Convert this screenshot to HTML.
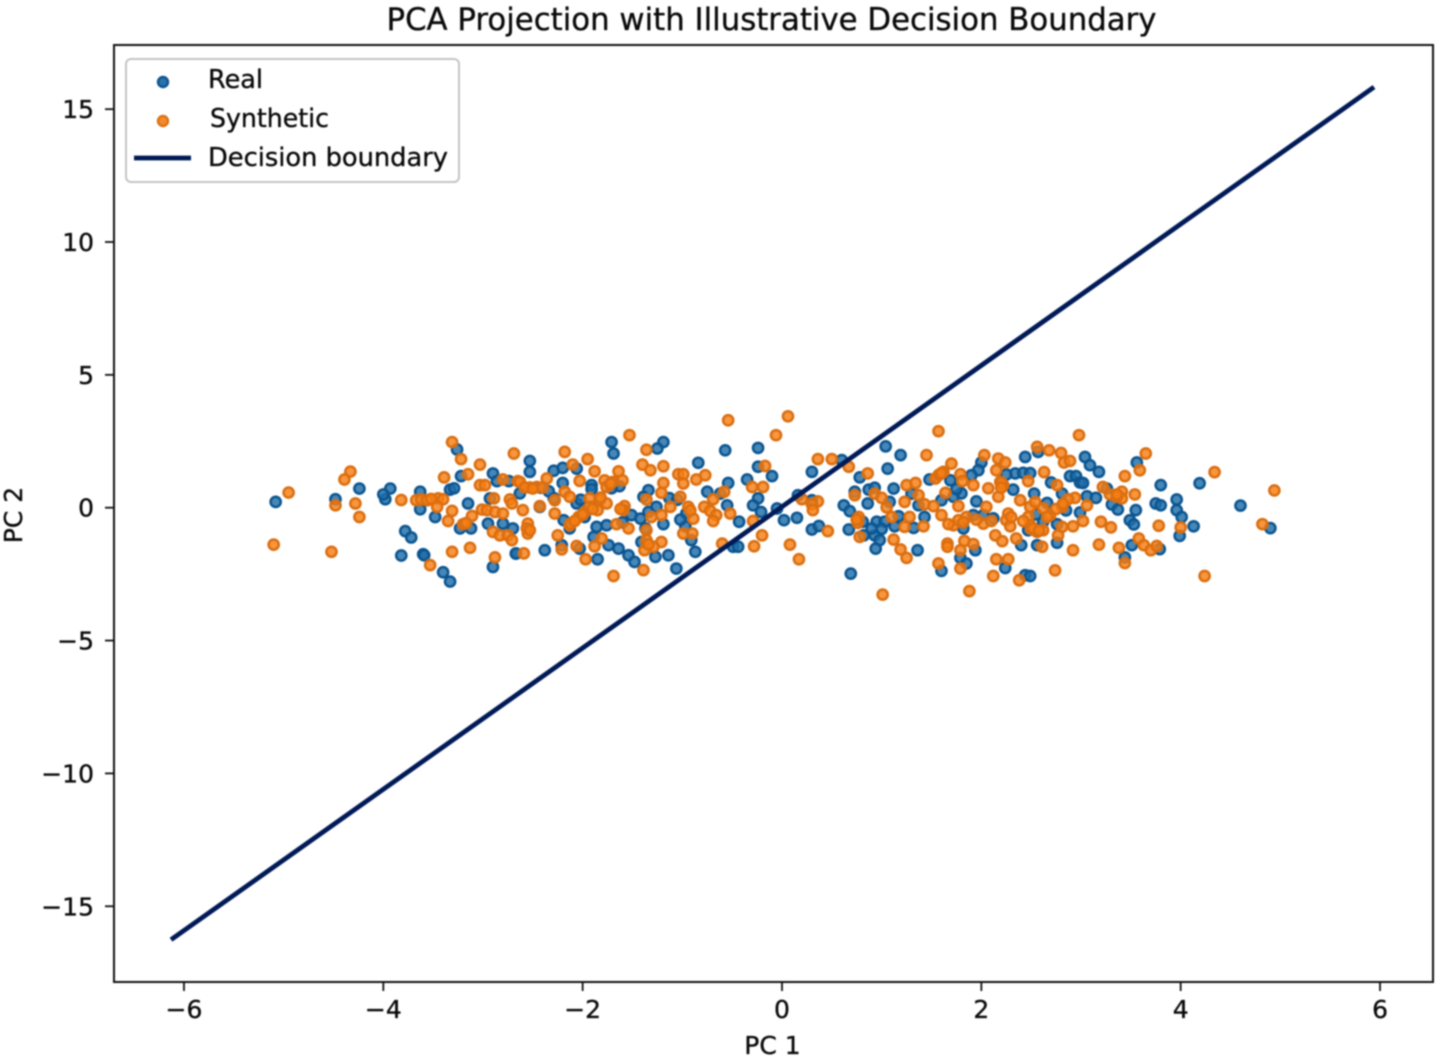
<!DOCTYPE html>
<html lang="en">
<head>
<meta charset="utf-8">
<title>PCA Projection with Illustrative Decision Boundary</title>
<style>
html,body{margin:0;padding:0;background:#fff;width:1441px;height:1060px;overflow:hidden}
svg{display:block;filter:blur(0.7px)}
text{font-family:"DejaVu Sans","Liberation Sans",sans-serif;fill:#0a0a0a;stroke:#0a0a0a;stroke-width:0.35px}
</style>
</head>
<body>
<svg id="chart" xmlns="http://www.w3.org/2000/svg" width="1441" height="1060" viewBox="0 0 1441 1060">
  <rect x="0" y="0" width="1441" height="1060" fill="#fff"/>
  <text x="771.5" y="30" font-size="31.5" text-anchor="middle" textLength="770" lengthAdjust="spacingAndGlyphs">PCA Projection with Illustrative Decision Boundary</text>
  <g id="ticks"></g>
  <g id="real"></g>
  <g id="synthetic"></g>
  <line id="boundary" stroke="#001a57" stroke-width="4.8"/>
  <rect x="114" y="45" width="1319" height="937" fill="none" stroke="#111" stroke-width="2"/>
  <text x="772.5" y="1054" font-size="25" text-anchor="middle">PC 1</text>
  <text transform="translate(22,515) rotate(-90)" font-size="25" text-anchor="middle">PC 2</text>
  <g>
    <rect x="126" y="59" width="333" height="123" rx="5" fill="#fff" fill-opacity="0.85" stroke="#c4c4c4" stroke-width="2"/>
    <circle cx="163" cy="82" r="5" fill="#2a72aa" stroke="#0e5590" stroke-width="2.4"/>
    <text x="208" y="88" font-size="25.5">Real</text>
    <circle cx="163" cy="121" r="5" fill="#f58a2c" stroke="#dc7214" stroke-width="2.4"/>
    <text x="210" y="127" font-size="25.5" textLength="119" lengthAdjust="spacingAndGlyphs">Synthetic</text>
    <line x1="134" y1="158" x2="191" y2="158" stroke="#001a57" stroke-width="4.8"/>
    <text x="208" y="166" font-size="25.5" textLength="240" lengthAdjust="spacingAndGlyphs">Decision boundary</text>
  </g>
</svg>
<script>
const xTicks = [-6, -4, -2, 0, 2, 4, 6];
const yTicks = [-15, -10, -5, 0, 5, 10, 15];
const boundaryX = [-6.13, 5.94];
const boundaryY = [-16.26, 15.83];
const realPoints = [
[-5.08,.22],[-4.48,.32],[-4.24,.72],[-3.98,.32],[-3.93,.72],[-4,.5],[-3.63,.6],[-3.63,-.06],[-3.48,-.35],[-3.33,.68],[-3.29,.73],[-3.26,2.19],[-3.22,1.19],[-3.15,.16],[-3.23,-.78],[-3.12,-.78],[-2.9,1.29],[-2.86,1],[-2.74,1],[-2.93,.35],[-2.95,-.6],[-3.78,-.88],[-3.72,-1.12],[-3.82,-1.8],[-3.6,-1.75],[-3.59,-1.79],[-3.4,-2.43],[-3.33,-2.78],[-2.9,-2.23],[-2.67,-1.73],[-2.8,-.6],[-2.7,-.78],
[-2.53,1.76],[-2.53,1.35],[-2.29,1.39],[-2.2,1.5],[-2.06,1.47],[-2.2,.93],[-1.71,2.47],[-1.69,2.04],[-1.19,2.47],[-1.25,2.23],[-.57,2.16],[-.24,2.25],[-.84,1.69],[-.24,1.54],[-.1,1.19],[-.54,.93],[-.35,1.06],[-.75,.6],[-.62,.53],[-.55,.09],[-.24,.35],[-.29,.09],[-.21,-.16],[-1.91,.85],[-1.91,.7],[-1.63,.81],[-1.71,.73],[-1.34,.66],[-1.39,.41],[-1.13,.36],[-1.26,.03],[-1.34,-.16],[-.96,-.22],[-1.19,-.62],[-.97,-.7],[-.91,-1.22],[-.87,-1.66],[-.43,-.53],[-.49,-1.47],[-.44,-1.47],[-.05,-.03],[-1.06,-2.29],[-2.63,.54],[-2.38,-1.6],[-2.67,-1.72],[-2.21,-1.41],[-2.03,-1.54],[-1.85,-1.94],[-1.86,-.72],[-1.89,-1.1],[-1.76,-.66],[-1.74,-1.41],[-1.64,-1.54],[-1.54,-1.79],[-1.48,-2.04],[-1.51,-.28],[-1.42,-.41],[-1.37,-.78],[-1.41,-1.29],[-1.27,-1.85],[-1.14,-1.79],[-2.06,.16],[-2.19,-.47],[-2.43,.03],[-2.29,.36],[-2.13,-.78],
[.3,1.35],[.6,1.79],[1.04,2.31],[1.19,1.98],[1.06,1.47],[.78,1.14],[.02,-.47],[.15,-.38],[.3,-.82],[.37,-.69],[.16,.47],[.3,.28],[.62,.09],[.68,-.13],[.67,-.82],[.73,.6],[.87,.68],[.93,.75],[.86,.16],[1.12,.72],[.81,-.53],[.82,-1.04],[.95,-.53],[1.03,-.53],[1.13,-.7],[.93,-1.04],[.98,-1.22],[.94,-1.54],[1.17,-.32],[1.08,.22],[1.43,-.35],[1.32,-.76],[1.36,-1.6],[.69,-2.48],[1.48,1.06],[1.69,1.03],[1.3,.53],[1.37,.09],[2,1.7],[1.97,1.41],[1.9,1.22],[2.44,1.91],[2.34,1.29],[2.42,1.31],[2.49,1.3],[1.8,.54],[1.72,.41],[1.6,.28],[1.95,.24],[2.32,.68],[1.82,-.78],[1.92,-.28],[2.02,-.28],[2.12,-.4],[1.6,-2.38],[1.79,-1.89],[1.85,-2.1],[1.94,-1.6],[2.24,-2.27],[2.44,-2.54],[2.4,-1.41],[2.56,-1.41],[2.47,-.85],
[3.04,1.91],[3.09,1.6],[3.18,1.35],[3.56,1.7],[2.89,1.19],[2.95,1.19],[2.99,.95],[3.02,.93],[3.8,.85],[4.19,.92],[3.26,.72],[3.06,.43],[3.15,.37],[3.31,.12],[3.37,-.07],[3.55,-.09],[3.75,.16],[3.8,.09],[3.96,.31],[3.96,-.09],[4.01,-.35],[4.6,.08],[3.49,-.47],[3.53,-.63],[2.99,-.18],[4.13,-.7],[3.99,-1.06],[4.9,-.77],[2.81,.53],[2.66,.18],[2.53,.53],[2.62,-.53],[2.76,-.62],[2.76,-1.32],[3.51,-1.41],[3.79,-1.56],[3.44,-1.87],[2.49,-2.57],[2.57,2.1],
[-2.42,.75],[-2.34,.62],[-2.02,.3],[-1.98,-.35],[-1.6,-.55],[-1.05,.3],[-1.02,-.45],[.9,-.78],[1.0,-.8],[1.75,.7],[2.25,1.25],[2.7,.95],[2.55,-.25],[2.85,-.1]
];
const syntheticPoints = [
[-4.95,.57],[-5.1,-1.39],[-4.52,-1.66],[-4.33,1.36],[-4.39,1.06],[-4.48,.09],[-4.28,.16],[-4.24,-.35],[-3.82,.29],[-3.67,.28],[-3.62,.31],[-3.56,.28],[-3.45,.35],[-3.4,.32],[-3.46,.03],[-3.31,-.12],[-3.35,-.5],[-3.31,2.47],[-3.22,1.83],[-3.03,1.62],[-3.15,1.26],[-3.39,1.14],[-2.69,2.04],[-3.03,.85],[-2.98,.85],[-2.8,1.06],[-2.65,1],[-3.31,-1.66],[-3.13,-1.51],[-2.88,-1.87],[-3.53,-2.16],[-3.11,-.31],[-3.2,-.62],[-3.17,-.58],[-3.01,-.07],[-2.96,-.09],[-2.88,-.16],[-2.8,-.22],[-2.89,.35],[-2.73,.31],[-2.71,.16],[-2.9,-.91],[-2.83,-1.04],[-2.75,-1.04],[-2.71,-1.22],
[-2.18,2.1],[-2.1,1.62],[-1.95,1.83],[-1.53,2.73],[-1.36,2.18],[-.54,3.29],[-.06,2.73],[-1.4,1.62],[-1.32,1.41],[-1.19,1.56],[-1.04,1.26],[-.99,1.26],[-.99,.91],[-.86,1.06],[-.77,1.22],[-.17,1.57],[-.3,.78],[-.19,.78],[-.58,.6],[-.69,.32],[-.78,.03],[-.72,-.12],[-.52,-.22],[-.66,-.28],[-.69,-.5],[-1.19,.93],[-1.21,.56],[-1.02,.41],[-1.36,.31],[-.94,.03],[-.89,-.41],[-1.12,.03],[-1.21,-.28],[-1.31,-.35],[-1.88,1.37],[-1.64,1.37],[-2.03,1.01],[-1.78,1.03],[-1.76,.78],[-1.7,.97],[-2.36,1.1],[-2.53,.76],[-2.63,.97],[-2.58,.76],[-2.46,.78],[-2.43,.06],[-2.6,-.09],[-2.28,.28],[-2.18,.6],[-2.13,.41],[-2.28,-.22],[-1.93,.35],[-1.83,.28],[-1.76,.16],[-2.13,-.66],[-2.04,-.35],[-1.98,-.16],[-1.93,.03],[-1.85,-.09],[-2.55,-.6],[-2.55,-.97],[-2.25,-1.04],[-2.59,-1.72],[-2.21,-1.57],[-2.06,-1.44],[-1.97,-1.94],[-1.88,-1.45],[-1.81,-1.16],[-1.69,-2.57],[-1.39,-2.35],[-1.58,.06],[-1.59,-.09],[-1.66,-.62],[-1.54,-.78],[-1.36,-.85],[-1.36,-1.22],[-1.21,-1.29],[-1.29,-1.47],[-1.38,-1.6],[-.99,-.97],[-.9,-.97],[-.2,-1.04],[-.28,-1.45],[-.6,-1.35],[-.29,-.5],
[.06,3.44],[.36,1.83],[.5,1.83],[.67,1.54],[1.57,2.88],[1.45,1.98],[.86,1.29],[.2,.32],[.36,.24],[.3,.13],[.31,-.09],[.46,-.88],[.08,-1.39],[.17,-1.94],[.73,.47],[.77,-.35],[.76,-.57],[.78,-1.1],[.93,.53],[1,.37],[1.05,.01],[1.1,-.35],[1.12,-1.2],[1.19,-1.57],[1.25,-1.89],[1.01,-3.27],[1.88,-3.14],[1.25,.85],[1.34,.93],[1.23,.22],[1.28,-.35],[1.23,-.72],[1.42,-.7],[1.37,.47],[1.43,.13],[1.52,.06],[1.6,-.28],[1.57,1.22],[1.54,1.1],[1.62,1.35],[1.7,1.66],[1.64,.56],[1.79,1.26],[1.81,1],[1.92,.85],[1.77,.06],[1.72,-.66],[1.77,-.47],[1.85,-.35],[1.66,-1.35],[1.66,-1.47],[1.83,-1.25],[1.79,-1.6],[1.92,-1.37],[1.57,-2.1],[1.79,-2.29],[2.12,-2.57],[2.38,-2.73],[2.15,-1.94],[2.27,-1.94],[2.14,-1.04],[2.21,-1.26],[2.35,-1.16],[2.05,.03],[2.02,-.6],[2.03,1.98],[2.17,1.85],[2.24,1.7],[2.15,1.41],[2.19,.97],[2.22,.85],[2.07,.73],[2.17,.41],[2.47,1],[2.56,2.29],[2.39,.28],[2.49,.03],[2.27,-.22],[2.25,-.47],[2.29,-.7],[2.47,-.35],[2.49,-.66],[2.56,-.91],
[2.98,2.73],[2.68,2.16],[2.8,2.06],[2.83,1.7],[2.89,1.76],[3.65,2.04],[3.59,1.41],[4.34,1.34],[3.44,1.19],[2.63,1.34],[2.76,.85],[3.22,.78],[3.29,.5],[3.41,.6],[3.41,.35],[3.36,.41],[3.54,.5],[4.94,.65],[4.82,-.62],[2.94,.37],[2.87,.32],[2.81,.03],[3.06,.09],[2.54,.22],[2.62,-.02],[2.69,-.28],[2.92,-.7],[3.02,-.5],[2.81,-.72],[3.2,-.53],[3.3,-.74],[3.78,-.68],[4,-.74],[2.62,-.85],[2.77,-1.04],[2.61,-1.47],[2.92,-1.6],[3.18,-1.39],[3.38,-1.51],[3.58,-1.16],[3.63,-1.41],[3.7,-1.6],[3.76,-1.44],[3.44,-2.08],[2.74,-2.36],[4.24,-2.57],
[-3.52,.33],[-2.5,.72],[-2.4,.76],[-2.12,-.6],[-2.08,-.5],[-2.0,-.25],[-1.9,-.05],[-1.62,-.05],[-1.6,1.03],[-1.72,.9],[-2.56,-.78],[-2.53,-.85],[-1.34,-1.38],[-.92,-.1],[-1.82,.38],[.75,-.45],[1.58,1.25],[1.6,1.3],[1.67,-.62],[1.82,-.55],[1.95,-.45],[2.1,-.5],[2.2,.95],[2.2,.75],[2.3,-.35],[2.42,-.5],[2.5,-.8],[2.52,-.78],[2.58,-.86],[2.66,-.35],[2.75,-.05],[2.82,.15],[3.36,.5]
];

const SVG_NS = 'http://www.w3.org/2000/svg';
function xScale(v) { return 782 + v * 99.67; }
function yScale(v) { return 507.7 - v * 26.57; }

const tickGroup = document.getElementById('ticks');
xTicks.forEach(function (t) {
  const mark = document.createElementNS(SVG_NS, 'line');
  
  
  mark.setAttribute('x1', xScale(t));
  mark.setAttribute('x2', xScale(t));
  mark.setAttribute('y1', 982);
  mark.setAttribute('y2', 991);
  mark.setAttribute('stroke', '#111');
  mark.setAttribute('stroke-width', 1.8);
  tickGroup.appendChild(mark);
  const label = document.createElementNS(SVG_NS, 'text');
  
  
  label.setAttribute('x', xScale(t));
  label.setAttribute('y', 1018);
  label.setAttribute('font-size', 25);
  label.setAttribute('text-anchor', 'middle');
  label.textContent = String(t).replace('-', '\u2212');
  tickGroup.appendChild(label);
});
yTicks.forEach(function (t) {
  const mark = document.createElementNS(SVG_NS, 'line');
  
  
  mark.setAttribute('x1', 105);
  mark.setAttribute('x2', 114);
  mark.setAttribute('y1', yScale(t));
  mark.setAttribute('y2', yScale(t));
  mark.setAttribute('stroke', '#111');
  mark.setAttribute('stroke-width', 1.8);
  tickGroup.appendChild(mark);
  const label = document.createElementNS(SVG_NS, 'text');
  
  
  label.setAttribute('x', 94);
  label.setAttribute('y', yScale(t) + 9);
  label.setAttribute('font-size', 25);
  label.setAttribute('text-anchor', 'end');
  label.textContent = String(t).replace('-', '\u2212');
  tickGroup.appendChild(label);
});

function drawSeries(groupId, points, fill, edge, name) {
  const group = document.getElementById(groupId);
  points.forEach(function (p) {
    const dot = document.createElementNS(SVG_NS, 'circle');
    
    
    dot.setAttribute('cx', xScale(p[0]));
    dot.setAttribute('cy', yScale(p[1]));
    dot.setAttribute('r', 5.1);
    dot.setAttribute('fill', fill);
    dot.setAttribute('fill-opacity', 0.82);
    dot.setAttribute('stroke', edge);
    dot.setAttribute('stroke-width', 2.5);
    group.appendChild(dot);
  });
}
drawSeries('real', realPoints, '#1f6ca8', '#0b5590', 'real-point');
drawSeries('synthetic', syntheticPoints, '#f67e12', '#da6e10', 'synthetic-point');

const boundary = document.getElementById('boundary');
boundary.setAttribute('x1', xScale(boundaryX[0]));
boundary.setAttribute('y1', yScale(boundaryY[0]));
boundary.setAttribute('x2', xScale(boundaryX[1]));
boundary.setAttribute('y2', yScale(boundaryY[1]));
</script>
</body>
</html>
